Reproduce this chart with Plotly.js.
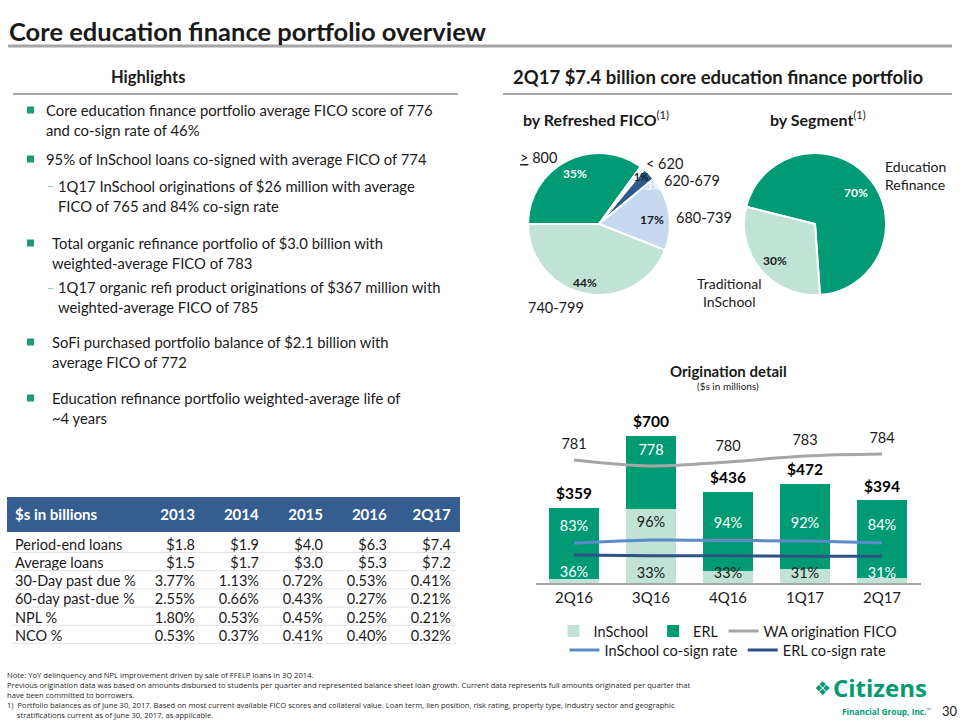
<!DOCTYPE html>
<html><head><meta charset="utf-8">
<script src="https://cdn.plot.ly/plotly-3.0.1.min.js"></script>
<style>html,body{margin:0;padding:0;background:#fff;} #chart{width:960px;height:720px;}</style>
</head><body><div id="chart"></div>
<script>
// ---------- data ----------
const quarters = ['2Q16','3Q16','4Q16','1Q17','2Q17'];
const inschool = [18, 354, 57, 65, 26];
const erl = [341, 346, 379, 407, 368];
const waFico = [781, 778, 780, 783, 784];
const inschoolCosign = [83, 96, 94, 92, 84];
const erlCosign = [36, 33, 33, 31, 31];

const ficoLabels = ['> 800', '< 620', '620-679', '680-739', '740-799'];
const ficoShares = [35, 1, 3, 17, 44];
const segLabels = ['Education Refinance', 'Traditional InSchool'];
const segShares = [70, 30];

const tableHeader = ['$s in billions', '2013', '2014', '2015', '2016', '2Q17'];
const rowLabels = ['Period-end loans', 'Average loans', '30-Day past due %', '60-day past-due %', 'NPL %', 'NCO %'];
const periodEndLoans = [1.8, 1.9, 4.0, 6.3, 7.4];
const averageLoans = [1.5, 1.7, 3.0, 5.3, 7.2];
const pastDue30 = [3.77, 1.13, 0.72, 0.53, 0.41];
const pastDue60 = [2.55, 0.66, 0.43, 0.27, 0.21];
const nplPct = [1.80, 0.53, 0.45, 0.25, 0.21];
const ncoPct = [0.53, 0.37, 0.41, 0.40, 0.32];

// ---------- helpers ----------
const W = 960, H = 720;
const X = px => px / W;
const Y = py => 1 - py / H;
const FONT = 'Lato, "Open Sans", sans-serif';
const GREEN = '#009a74', MINT = '#c0e3d5', TXT = '#1a1a1a';
const CLEAR = 'rgba(0,0,0,0)';

const totals = quarters.map((q, i) => inschool[i] + erl[i]);

const traces = [];
traces.push({type:'bar', x:quarters, y:inschool, name:'InSchool', marker:{color:MINT}, legend:'legend', hoverinfo:'skip'});
traces.push({type:'bar', x:quarters, y:erl, name:'ERL', marker:{color:GREEN}, legend:'legend', hoverinfo:'skip'});
traces.push({type:'scatter', x:quarters, y:totals, yaxis:'y4', mode:'text', text:totals.map(v => '<b>$' + v + '</b>'),
  textposition:'top center', textfont:{size:15.5, color:'#000', family:FONT}, showlegend:false, hoverinfo:'skip'});
traces.push({type:'scatter', x:quarters, y:waFico, yaxis:'y2', mode:'lines+markers+text', name:'WA origination FICO',
  line:{color:'#a6a6a6', width:3, shape:'spline'}, marker:{size:10, color:CLEAR},
  text:waFico.map(String), textposition:'top center',
  textfont:{size:14.5, family:FONT, color:['#1a1a1a','#ffffff','#1a1a1a','#1a1a1a','#1a1a1a']}, legend:'legend', hoverinfo:'skip'});
traces.push({type:'scatter', x:quarters, y:inschoolCosign, yaxis:'y3', mode:'lines+markers+text', name:'InSchool co-sign rate',
  line:{color:'#5b8bc8', width:3, shape:'spline'}, marker:{size:13, color:CLEAR},
  text:inschoolCosign.map(v => v + '%'), textposition:'top center',
  textfont:{size:14.5, family:FONT, color:['#ffffff','#1a1a1a','#ffffff','#ffffff','#ffffff']}, legend:'legend2', hoverinfo:'skip'});
traces.push({type:'scatter', x:quarters, y:erlCosign, yaxis:'y3', mode:'lines+markers+text', name:'ERL co-sign rate',
  line:{color:'#2c5288', width:3, shape:'spline'}, marker:{size:16, color:CLEAR},
  text:erlCosign.map(v => v + '%'), textposition:'bottom center',
  textfont:{size:14.5, family:FONT, color:['#ffffff','#1a1a1a','#1a1a1a','#1a1a1a','#ffffff']}, legend:'legend2', hoverinfo:'skip'});

traces.push({type:'pie', labels:ficoLabels, values:ficoShares, sort:false, direction:'clockwise', rotation:270,
  domain:{x:[X(528), X(670)], y:[Y(295), Y(153)]},
  marker:{colors:[GREEN, '#f0f0f0', '#2e5a8c', '#c6d9f0', MINT], line:{color:'#ffffff', width:2}},
  textinfo:'none', showlegend:false, hoverinfo:'skip'});
traces.push({type:'pie', labels:segLabels, values:segShares, sort:false, direction:'clockwise', rotation:284,
  domain:{x:[X(744), X(886)], y:[Y(295), Y(153)]},
  marker:{colors:[GREEN, MINT], line:{color:'#ffffff', width:2}},
  textinfo:'none', showlegend:false, hoverinfo:'skip'});

const fmt1 = a => a.map(v => '$' + v.toFixed(1));
const fmtP = a => a.map(v => v.toFixed(2) + '%');
const NB = s => s.replace(/ /g, '\u00a0');
const cols = [rowLabels.map(NB)];
for (let j = 0; j < 5; j++) {
  cols.push([fmt1(periodEndLoans)[j], fmt1(averageLoans)[j], fmtP(pastDue30)[j], fmtP(pastDue60)[j], fmtP(nplPct)[j], fmtP(ncoPct)[j]]);
}
traces.push({type:'table', domain:{x:[X(7), X(459)], y:[Y(645), Y(497)]},
  columnwidth:[132, 64, 64, 64, 64, 64],
  header:{values:tableHeader.map(h => '<b>' + NB(h) + '</b>'), fill:{color:'#355d90'}, line:{color:'#355d90', width:1},
    align:['left','right','right','right','right','right'], font:{family:FONT, size:15, color:'#ffffff'}, height:32},
  cells:{values:cols, fill:{color:'rgba(255,255,255,0)'}, line:{color:'rgba(255,255,255,0)', width:0},
    align:['left','right','right','right','right','right'], font:{family:FONT, size:14.5, color:TXT}, height:18.2}});

// ---------- annotations ----------
const ann = [];
function T(text, x, y, opt) {
  opt = opt || {};
  ann.push(Object.assign({text:text, x:X(x), y:Y(y), xref:'paper', yref:'paper', showarrow:false,
    xanchor:opt.xa || 'left', yanchor:opt.ya || 'middle', font:{family:opt.family || FONT, size:opt.size || 14.8, color:opt.color || TXT}}, opt.extra || {}));
}
T('<b>Core education finance portfolio overview</b>', 7, 31, {size:25.5});
T('<b>Highlights</b>', 148, 77, {xa:'center', size:16.5});
T('<b>2Q17 $7.4 billion core education finance portfolio</b>', 718, 77, {xa:'center', size:18.5});

const bulletLines = [
  ['Core education finance portfolio average FICO score of 776', 44, 110],
  ['and co-sign rate of 46%', 44, 130],
  ['95% of InSchool loans co-signed with average FICO of 774', 44, 159],
  ['1Q17 InSchool originations of $26 million with average', 56, 186],
  ['FICO of 765 and 84% co-sign rate', 56, 206],
  ['Total organic refinance portfolio of $3.0 billion with', 50, 243],
  ['weighted-average FICO of 783', 50, 263],
  ['1Q17 organic refi product originations of $367 million with', 56, 287],
  ['weighted-average FICO of 785', 56, 307],
  ['SoFi purchased portfolio balance of $2.1 billion with', 50, 342],
  ['average FICO of 772', 50, 362],
  ['Education refinance portfolio weighted-average life of', 50, 398],
  ['~4 years', 50, 418]
];
bulletLines.forEach(l => T(l[0], l[1], l[2]));
T('–', 45, 186, {size:12, color:'#7fbfa8'});
T('–', 45, 287, {size:12, color:'#7fbfa8'});

// pie headers and labels
T('<b>by Refreshed FICO</b><sup>(1)</sup>', 521, 119, {size:16});
T('<b>by Segment</b><sup>(1)</sup>', 768, 119, {size:16});
T('<u>&gt;</u> 800', 518, 157, {size:14.5});
T('< 620', 644, 164, {size:14.5});
T('620-679', 662, 180, {size:14.5});
T('680-739', 674, 217, {size:14.5});
T('740-799', 526, 307, {size:14.5});
const ficoPctPos = [[575,173,'#ffffff'],[641,177,TXT],[653,186,'#ffffff'],[652,219,TXT],[585,283,TXT]];
ficoShares.forEach((v, i) => T('<b>' + v + '%</b>', ficoPctPos[i][0], ficoPctPos[i][1], {xa:'center', size:(v < 5 ? 10.5 : 12), color:ficoPctPos[i][2]}));
T('Education<br>Refinance', 883, 175, {size:14, extra:{align:'left'}});
T('Traditional<br>InSchool', 729, 292, {xa:'center', size:14});
const segPctPos = [[856,193,'#ffffff'],[775,260,TXT]];
segShares.forEach((v, i) => T('<b>' + v + '%</b>', segPctPos[i][0], segPctPos[i][1], {xa:'center', size:12, color:segPctPos[i][2]}));

// origination detail titles
T('<b>Origination detail</b>', 728, 371, {xa:'center', size:15});
T('($s in millions)', 728, 386, {xa:'center', size:10});

// footnotes (one block)
const footLines = [
  'Note: YoY delinquency and NPL improvement driven by sale of FFELP loans in 3Q 2014.',
  'Previous origination data was based on amounts disbursed to students per quarter and represented balance sheet loan growth. Current data represents full amounts originated per quarter that',
  'have been committed to borrowers.',
  '1)  Portfolio balances as of June 30, 2017. Based on most current available FICO scores and collateral value. Loan term, lien position, risk rating, property type, industry sector and geographic',
  '\u00a0\u00a0\u00a0\u00a0\u00a0stratifications current as of June 30, 2017, as applicable.'
];
T(footLines.join('<br>'), 5, 668, {ya:'top', size:7.6, family:'"Open Sans", sans-serif', color:'#262626', extra:{align:'left'}});

// logo + page number
T('<b>❖</b>', 812, 688, {size:19, color:GREEN, family:'DejaVu Sans'});
T('<b>Citizens</b>', 831, 687, {size:24, color:GREEN, family:'"Open Sans", sans-serif'});
T('<b>Financial Group, Inc.</b><sup>™</sup>', 840, 711, {size:8.3, color:GREEN, family:'"Open Sans", sans-serif'});
T('30', 940, 711, {size:13, color:TXT});

// ---------- shapes ----------
const shapes = [];
function L(x0, x1, y, color, w) {
  shapes.push({type:'line', xref:'paper', yref:'paper', x0:X(x0), x1:X(x1), y0:Y(y), y1:Y(y), line:{color:color, width:w}});
}
L(8, 952, 46, '#a6a6a6', 3);
L(13, 458, 94, '#a6a6a6', 2);
L(503, 952, 94, '#a6a6a6', 2);
[110, 159, 243, 342, 398].forEach(y => shapes.push({type:'rect', xref:'paper', yref:'paper',
  x0:X(27), x1:X(34), y0:Y(y + 3.5), y1:Y(y - 3.5), fillcolor:'#1f9a78', line:{width:0}}));
for (let k = 0; k < 6; k++) L(12, 456, 552.5 + 18.2 * k, '#e2e2e2', 1);

const layout = {
  width:W, height:H, margin:{l:0, r:0, t:0, b:0}, paper_bgcolor:'#ffffff', plot_bgcolor:'rgba(0,0,0,0)',
  font:{family:FONT, color:TXT},
  barmode:'stack', bargap:0.34,
  xaxis:{domain:[X(535.5), X(920.5)], type:'category', range:[-0.5, 4.5], showline:true, linecolor:'#a6a6a6', linewidth:1.5,
    ticks:'', showgrid:false, zeroline:false, tickfont:{size:15, color:TXT, family:FONT}, fixedrange:true},
  yaxis:{domain:[Y(583), Y(400)], range:[0, 873.5], visible:false, fixedrange:true},
  yaxis2:{domain:[Y(583), Y(400)], overlaying:'y', range:[719.5, 811], visible:false},
  yaxis3:{domain:[Y(583), Y(400)], overlaying:'y', range:[-76, 656], visible:false},
  yaxis4:{domain:[Y(583), Y(400)], overlaying:'y', range:[-24, 849.5], visible:false},
  legend:{orientation:'h', x:X(728), xanchor:'center', y:Y(615), yanchor:'top', font:{size:14.5, family:FONT, color:TXT}, bgcolor:'rgba(0,0,0,0)', traceorder:'normal'},
  legend2:{orientation:'h', x:X(728), xanchor:'center', y:Y(634), yanchor:'top', font:{size:14.5, family:FONT, color:TXT}, bgcolor:'rgba(0,0,0,0)', traceorder:'normal'},
  annotations:ann, shapes:shapes, showlegend:true
};
Plotly.newPlot('chart', traces, layout, {staticPlot:true, displayModeBar:false});
</script></body></html>
